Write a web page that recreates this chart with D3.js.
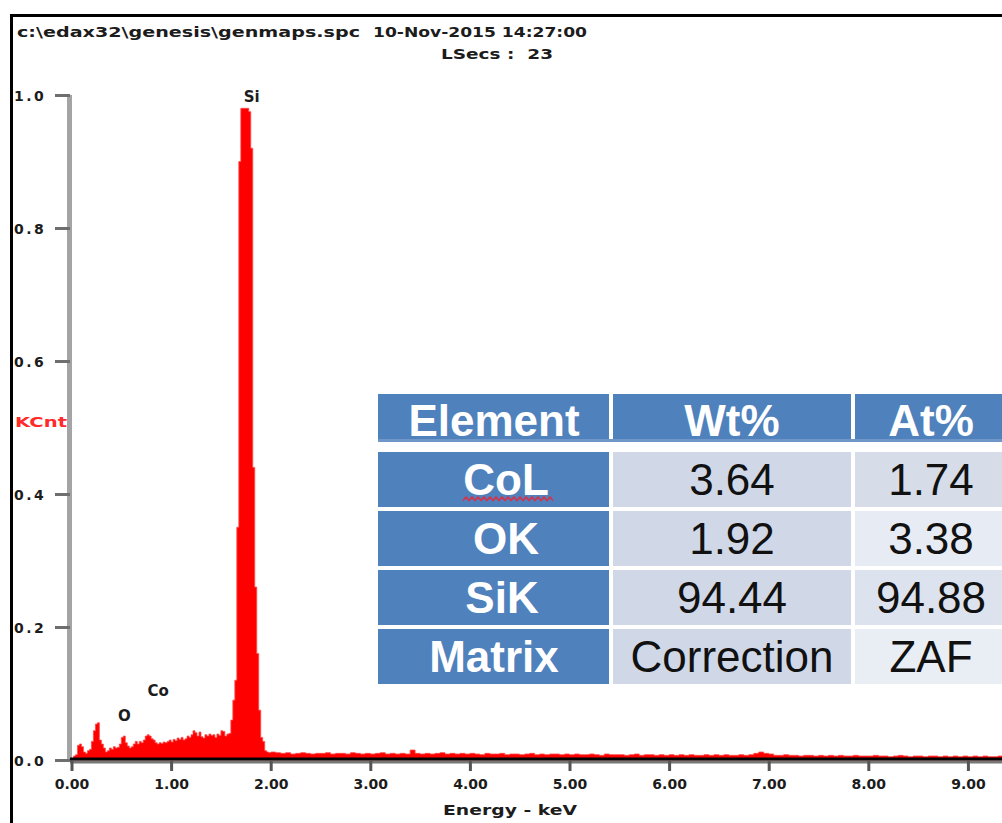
<!DOCTYPE html>
<html>
<head>
<meta charset="utf-8">
<script src="https://cdn.jsdelivr.net/npm/d3@7"></script>
<style>
  html, body { margin: 0; padding: 0; background: #fff; overflow: hidden; }
  svg { display: block; }
</style>
</head>
<body>
<svg id="chart" width="1002" height="823"></svg>
<script>
// ---- spectrum header ----
const headerFile = "c:\\edax32\\genesis\\genmaps.spc";
const headerDate = "10-Nov-2015 14:27:00";
const liveSecs = "LSecs :  23";

// ---- axes ----
const xTicks = [0, 1, 2, 3, 4, 5, 6, 7, 8, 9];
const yTicks = [0.0, 0.2, 0.4, 0.6, 0.8, 1.0];
const xTitle = "Energy - keV";
const yTitle = "KCnt";

// ---- peak identification labels (energy in keV, height in KCnt) ----
const peakNames = ["Si", "O", "Co"];
const peakLabelEnergy = [1.81, 0.53, 0.87];
const peakLabelHeight = [0.99, 0.059, 0.096];

// ---- spectrum counts (KCnt) ----
// low-energy channels: 0.00 .. 1.98 keV, 0.02 keV wide
const lowStart = 0.0, lowStep = 0.02;
const lowCounts = [
  0.002, 0.006, 0.008, 0.022, 0.024, 0.020, 0.012, 0.010, 0.014, 0.016,
  0.028, 0.044, 0.054, 0.056, 0.030, 0.024, 0.018, 0.012, 0.014, 0.018,
  0.016, 0.020, 0.018, 0.019, 0.024, 0.034, 0.036, 0.026, 0.021, 0.018,
  0.020, 0.024, 0.028, 0.024, 0.028, 0.026, 0.030, 0.036, 0.038, 0.036,
  0.032, 0.030, 0.026, 0.024, 0.026, 0.025, 0.027, 0.026, 0.028, 0.030,
  0.027, 0.031, 0.029, 0.033, 0.031, 0.034, 0.030, 0.032, 0.036, 0.034,
  0.038, 0.044, 0.041, 0.036, 0.042, 0.035, 0.033, 0.038, 0.036, 0.039,
  0.037, 0.038, 0.034, 0.039, 0.037, 0.044, 0.043, 0.036, 0.039, 0.040,
  0.060, 0.090, 0.120, 0.350, 0.900, 0.980, 0.980, 0.980, 0.980, 0.975,
  0.920, 0.440, 0.260, 0.160, 0.075, 0.034, 0.028, 0.014, 0.012, 0.011
];
// continuum channels: 2.00 .. 9.95 keV, 0.05 keV wide
const tailStart = 2.0, tailStep = 0.05;
const tailCounts = [
  0.012, 0.011, 0.010, 0.011, 0.009, 0.010, 0.011, 0.010, 0.009, 0.010,
  0.010, 0.011, 0.009, 0.010, 0.010, 0.009, 0.011, 0.010, 0.009, 0.010,
  0.009, 0.010, 0.011, 0.009, 0.010, 0.009, 0.010, 0.009, 0.015, 0.010,
  0.009, 0.010, 0.009, 0.010, 0.011, 0.009, 0.010, 0.009, 0.010, 0.009,
  0.010, 0.009, 0.008, 0.010, 0.009, 0.009, 0.010, 0.008, 0.009, 0.009,
  0.008, 0.009, 0.010, 0.008, 0.009, 0.008, 0.009, 0.009, 0.008, 0.009,
  0.008, 0.009, 0.008, 0.008, 0.009, 0.008, 0.007, 0.009, 0.008, 0.008,
  0.008, 0.007, 0.008, 0.009, 0.007, 0.008, 0.008, 0.007, 0.008, 0.007,
  0.008, 0.007, 0.008, 0.007, 0.008, 0.007, 0.007, 0.008, 0.007, 0.008,
  0.007, 0.008, 0.007, 0.007, 0.008, 0.007, 0.008, 0.010, 0.012, 0.010,
  0.009, 0.007, 0.007, 0.008, 0.007, 0.007, 0.006, 0.007, 0.007, 0.006,
  0.007, 0.006, 0.007, 0.006, 0.007, 0.006, 0.006, 0.007, 0.006, 0.006,
  0.006, 0.007, 0.006, 0.006, 0.005, 0.006, 0.007, 0.006, 0.005, 0.006,
  0.006, 0.005, 0.006, 0.006, 0.005, 0.006, 0.005, 0.006, 0.005, 0.006,
  0.005, 0.006, 0.005, 0.006, 0.005, 0.005, 0.006, 0.005, 0.005, 0.006,
  0.005, 0.005, 0.006, 0.005, 0.005, 0.005, 0.006, 0.005, 0.005, 0.005
];

// ---- quantification table ----
const tableHeaders = ["Element", "Wt%", "At%"];
const tableElements = ["CoL", "OK", "SiK", "Matrix"];
const tableWt = ["3.64", "1.92", "94.44", "Correction"];
const tableAt = ["1.74", "3.38", "94.88", "ZAF"];

// =====================================================================
const svg = d3.select("#chart");
const tickFont = "'DejaVu Sans', Verdana, sans-serif";
const ink = "#1c1c1c";

// scales
const x = d3.scaleLinear().domain([0, 10]).range([71.5, 1067.5]);
const y = d3.scaleLinear().domain([0, 1]).range([760, 95]);

// outer frame (left and top edges of the spectrum window)
svg.append("path")
  .attr("d", "M11.5,823 L11.5,15.5 L1002,15.5")
  .attr("fill", "none").attr("stroke", "#000").attr("stroke-width", 3);

// header text
svg.append("text").attr("x", 17).attr("y", 37)
  .attr("font-family", tickFont).attr("font-weight", "bold").attr("font-size", 14)
  .attr("fill", ink).attr("textLength", 343).attr("lengthAdjust", "spacingAndGlyphs")
  .text(headerFile);
svg.append("text").attr("x", 373).attr("y", 37)
  .attr("font-family", tickFont).attr("font-weight", "bold").attr("font-size", 14)
  .attr("fill", ink).attr("textLength", 214).attr("lengthAdjust", "spacingAndGlyphs")
  .text(headerDate);
svg.append("text").attr("x", 441).attr("y", 59)
  .attr("font-family", tickFont).attr("font-weight", "bold").attr("font-size", 14)
  .attr("fill", ink).attr("textLength", 112).attr("lengthAdjust", "spacingAndGlyphs")
  .attr("xml:space", "preserve")
  .text(liveSecs);

// spectrum bins
const bins = [];
lowCounts.forEach((v, i) => bins.push({ e: lowStart + i * lowStep, v }));
tailCounts.forEach((v, i) => bins.push({ e: tailStart + i * tailStep, v }));
bins.push({ e: tailStart + tailCounts.length * tailStep, v: tailCounts[tailCounts.length - 1] });

svg.append("clipPath").attr("id", "plotClip")
  .append("rect").attr("x", x(0)).attr("y", 80).attr("width", 1002 - x(0)).attr("height", 682);

const area = d3.area()
  .x(d => x(d.e))
  .y0(y(0))
  .y1(d => y(d.v))
  .curve(d3.curveStepAfter);

svg.append("path")
  .datum(bins)
  .attr("clip-path", "url(#plotClip)")
  .attr("d", area)
  .attr("fill", "#ff0000")
  .attr("stroke", "#ff4a4a")
  .attr("stroke-width", 0.8);

// y axis
svg.append("rect").attr("x", 67).attr("y", y(1)).attr("width", 5)
  .attr("height", y(0) - y(1) + 2).attr("fill", "#a4a4a4");
const yAxis = svg.append("g")
  .attr("transform", `translate(${70},0)`)
  .call(d3.axisLeft(y).tickValues(yTicks).tickSize(15).tickFormat(d3.format(".1f")));
yAxis.select(".domain").remove();
yAxis.selectAll(".tick line").attr("stroke", "#6e6e6e").attr("stroke-width", 3);
yAxis.selectAll(".tick text")
  .attr("x", -56).attr("text-anchor", "start").attr("dy", "0.36em")
  .attr("font-family", tickFont).attr("font-weight", "bold").attr("font-size", 14)
  .attr("letter-spacing", "2.5px")
  .attr("fill", ink);

// y title
svg.append("text").attr("x", 15).attr("y", 427)
  .attr("font-family", tickFont).attr("font-weight", "bold").attr("font-size", 14)
  .attr("fill", "#ff2a2a").attr("textLength", 52).attr("lengthAdjust", "spacingAndGlyphs")
  .text(yTitle);

// x axis
svg.append("rect").attr("x", 70).attr("y", 760.5).attr("width", 940).attr("height", 3)
  .attr("fill", "#777");
svg.append("rect").attr("x", 70).attr("y", 757.5).attr("width", 940).attr("height", 3)
  .attr("fill", "#000");
const xAxis = svg.append("g")
  .attr("transform", `translate(0,${761})`)
  .call(d3.axisBottom(x).tickValues(xTicks).tickSize(10).tickPadding(8).tickFormat(d3.format(".2f")));
xAxis.select(".domain").remove();
xAxis.selectAll(".tick line").attr("stroke", "#555").attr("stroke-width", 3);
xAxis.selectAll(".tick text")
  .attr("font-family", tickFont).attr("font-weight", "bold").attr("font-size", 14)
  .attr("fill", ink);

svg.append("text").attr("x", 510).attr("y", 815).attr("text-anchor", "middle")
  .attr("font-family", tickFont).attr("font-weight", "bold").attr("font-size", 14)
  .attr("fill", ink).attr("textLength", 134).attr("lengthAdjust", "spacingAndGlyphs")
  .text(xTitle);

// peak labels
svg.append("g").selectAll("text")
  .data(peakNames)
  .join("text")
  .attr("x", (d, i) => x(peakLabelEnergy[i]))
  .attr("y", (d, i) => y(peakLabelHeight[i]))
  .attr("text-anchor", "middle")
  .attr("font-family", tickFont).attr("font-weight", "bold").attr("font-size", 15)
  .attr("fill", ink)
  .text(d => d);

// quantification table
const colX = [378, 613, 855];
const colW = [231, 238, 160];
const colCenter = [494, 732, 931];
const headerTop = 394, headerH = 48;
const rowTop = 452, rowStep = 59, rowH = 55;
const blue = "#4f81bd";
const col2Fill = ["#d0d8e8", "#d0d8e8", "#d0d8e8", "#d0d8e8"];
const col3Fill = ["#d6dde9", "#e7ebf3", "#dde3ee", "#e9edf4"];
const elemNudge = [0, 12, 12, 8, 0];
const tableFont = "'Liberation Sans', Arial, sans-serif";

const table = svg.append("g");
// header row
tableHeaders.forEach((h, j) => {
  table.append("rect").attr("x", colX[j]).attr("y", headerTop)
    .attr("width", colW[j]).attr("height", headerH).attr("fill", blue);
  table.append("text")
    .attr("x", colCenter[j] + (j === 0 ? elemNudge[0] : 0)).attr("y", headerTop + 42)
    .attr("text-anchor", "middle")
    .attr("font-family", tableFont).attr("font-weight", "bold").attr("font-size", 44)
    .attr("fill", "#fff").text(h);
});
table.append("rect").attr("x", colX[0]).attr("y", headerTop + headerH - 3)
  .attr("width", 1002 - colX[0]).attr("height", 3).attr("fill", "#6e96c9");

// body rows
tableElements.forEach((el, i) => {
  const top = rowTop + i * rowStep;
  table.append("rect").attr("x", colX[0]).attr("y", top)
    .attr("width", colW[0]).attr("height", rowH).attr("fill", blue);
  table.append("rect").attr("x", colX[1]).attr("y", top)
    .attr("width", colW[1]).attr("height", rowH).attr("fill", col2Fill[i]);
  table.append("rect").attr("x", colX[2]).attr("y", top)
    .attr("width", colW[2]).attr("height", rowH).attr("fill", col3Fill[i]);
  const base = top + rowH / 2 + 15;
  table.append("text").attr("x", colCenter[0] + elemNudge[i + 1]).attr("y", base)
    .attr("text-anchor", "middle")
    .attr("font-family", tableFont).attr("font-weight", "bold").attr("font-size", 44)
    .attr("fill", "#fff").text(el);
  table.append("text").attr("x", colCenter[1]).attr("y", base)
    .attr("text-anchor", "middle")
    .attr("font-family", tableFont).attr("font-size", 44)
    .attr("fill", "#111").text(tableWt[i]);
  table.append("text").attr("x", colCenter[2]).attr("y", base)
    .attr("text-anchor", "middle")
    .attr("font-family", tableFont).attr("font-size", 44)
    .attr("fill", "#111").text(tableAt[i]);
});

// spell-check squiggle under the first element name
const sq = [];
for (let px = 463, k = 0; px <= 555; px += 3, k++) sq.push([px, k % 2 ? 497 : 500.5]);
table.append("path").attr("d", d3.line()(sq))
  .attr("fill", "none").attr("stroke", "#d8324a").attr("stroke-width", 1.6);
</script>
</body>
</html>
